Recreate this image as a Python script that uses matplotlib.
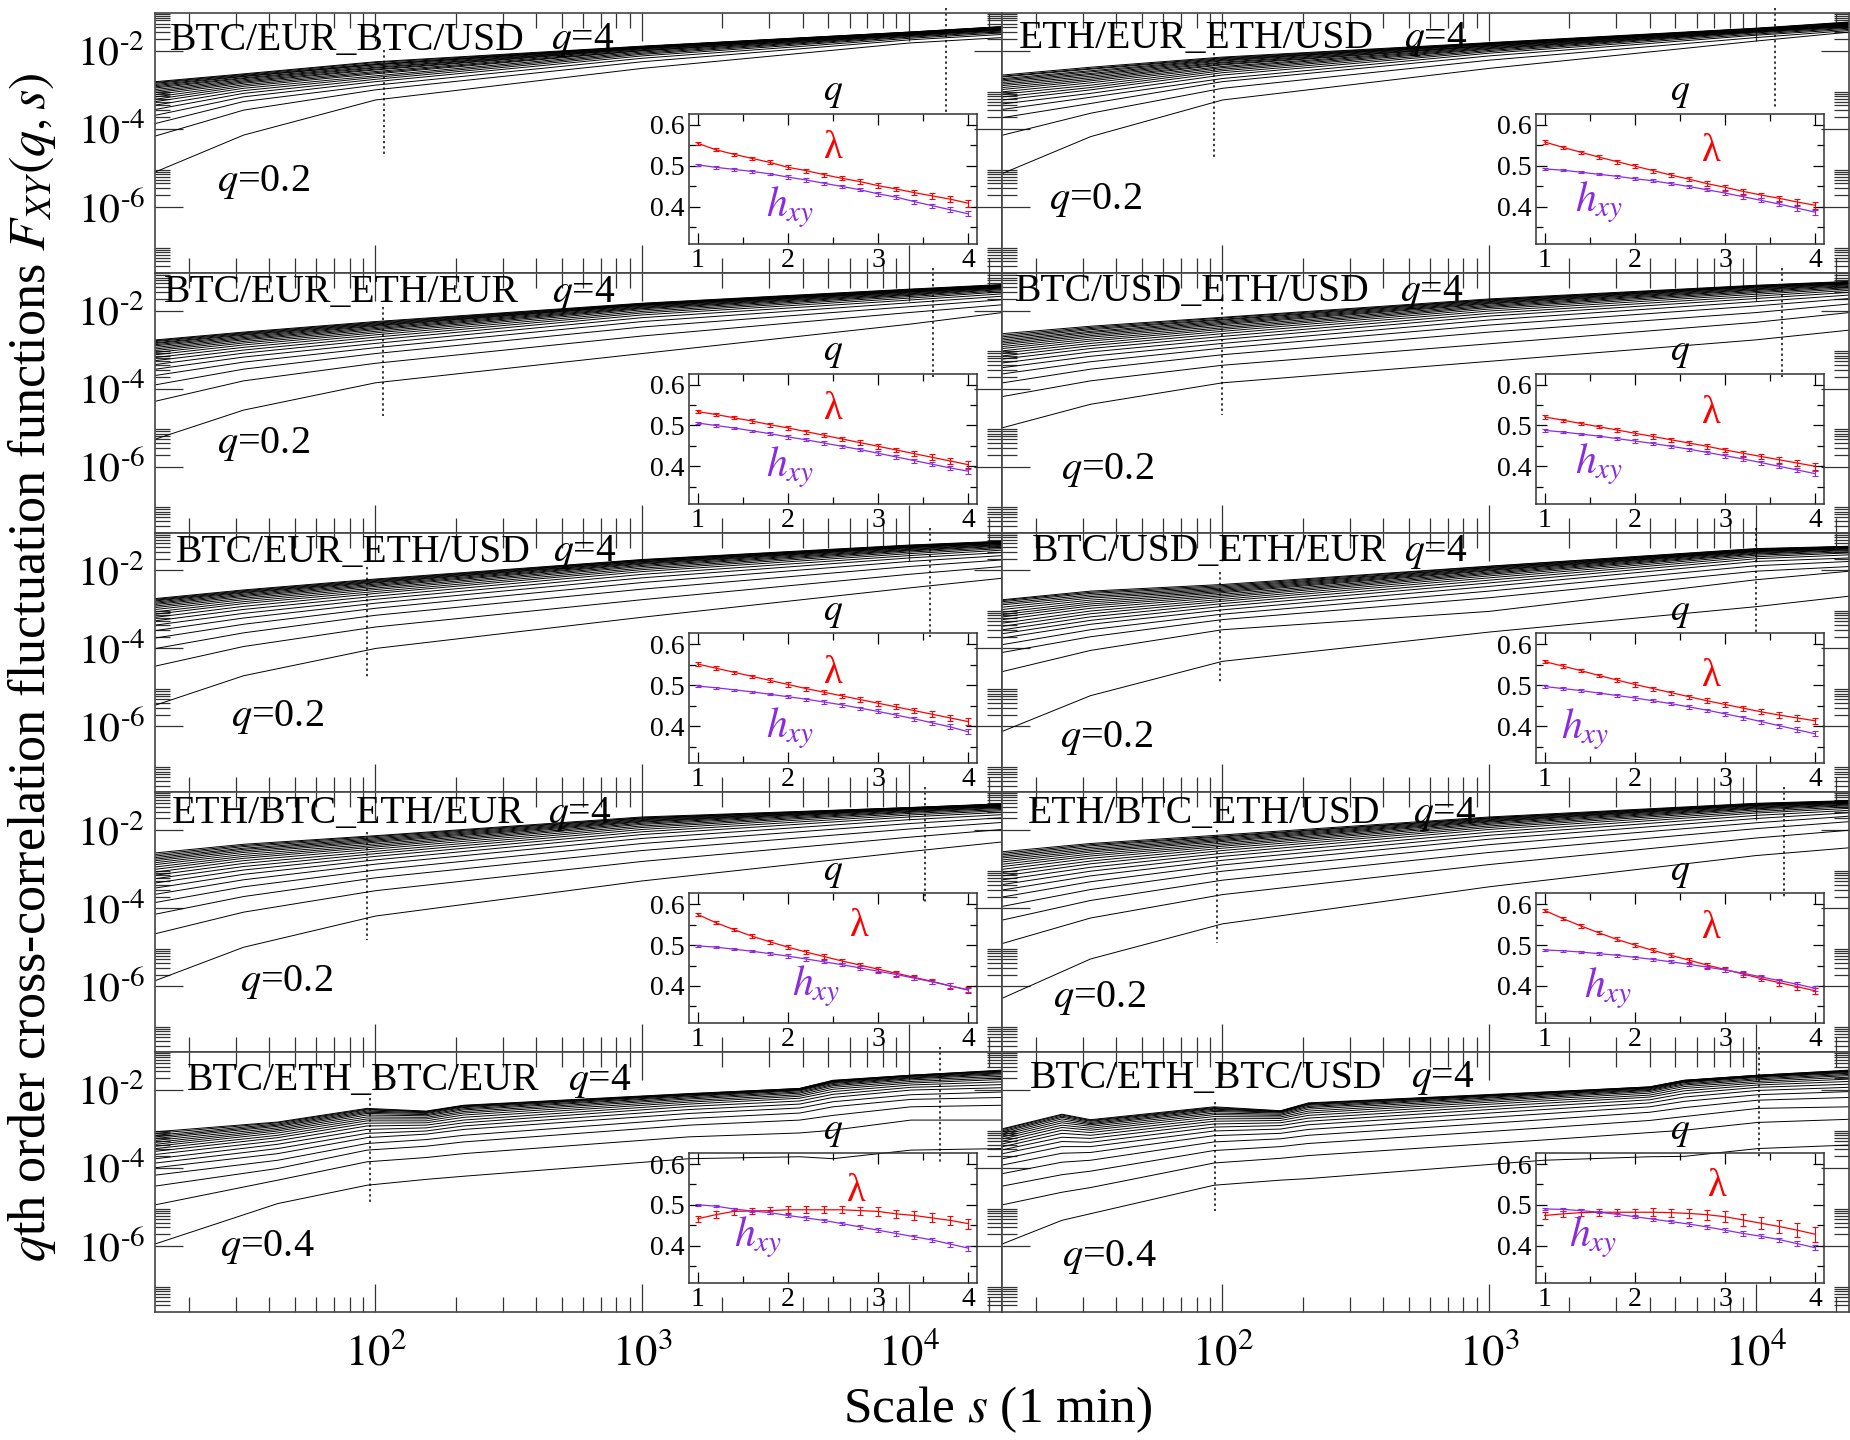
import numpy as np
import matplotlib
matplotlib.use("Agg")
import matplotlib.pyplot as plt
from matplotlib.ticker import FixedLocator, FuncFormatter, NullFormatter

plt.rcParams["font.family"] = ["Liberation Serif", "DejaVu Serif"]
plt.rcParams["mathtext.fontset"] = "stix"
plt.rcParams["axes.unicode_minus"] = False

s_grid = [15, 32, 100, 1000, 10000, 22400]
s_grid_btceth_eur = [15, 43, 93, 155, 214, 1500, 3900, 5200, 10200, 22400]
s_grid_btceth_usd = [15, 25, 32, 93, 165, 210, 1600, 4000, 5400, 10200, 22400]

q_orders = [0.2, 0.4, 0.6, 0.8, 1.0, 1.2, 1.4, 1.6, 1.8, 2.0,
            2.2, 2.4, 2.6, 2.8, 3.0, 3.2, 3.4, 3.6, 3.8, 4.0]
q_inset = [1.0, 1.2, 1.4, 1.6, 1.8, 2.0, 2.2, 2.4, 2.6, 2.8, 3.0, 3.2, 3.4, 3.6, 3.8, 4.0]

pairs = ["BTC/EUR_BTC/USD", "ETH/EUR_ETH/USD", "BTC/EUR_ETH/EUR", "BTC/USD_ETH/USD",
         "BTC/EUR_ETH/USD", "BTC/USD_ETH/EUR", "ETH/BTC_ETH/EUR", "ETH/BTC_ETH/USD",
         "BTC/ETH_BTC/EUR", "BTC/ETH_BTC/USD"]
q_lowest = ["0.2"] * 8 + ["0.4", "0.4"]

# log10 F_XY(q,s): one list per scale (s_grid), values for q = 0.2 ... 4.0
logF_btceur_btcusd = [
    [-5.10, -4.18, -3.86, -3.65, -3.50, -3.39, -3.30, -3.24, -3.18, -3.12, -3.07, -3.03, -2.99, -2.95, -2.92, -2.89, -2.86, -2.83, -2.81, -2.79],
    [-4.16, -3.52, -3.30, -3.18, -3.09, -3.02, -2.96, -2.91, -2.87, -2.83, -2.80, -2.77, -2.74, -2.71, -2.69, -2.66, -2.65, -2.63, -2.61, -2.59],
    [-3.26, -3.00, -2.88, -2.79, -2.73, -2.68, -2.64, -2.59, -2.56, -2.53, -2.49, -2.47, -2.44, -2.42, -2.39, -2.36, -2.35, -2.33, -2.30, -2.28],
    [-2.45, -2.28, -2.19, -2.13, -2.09, -2.06, -2.03, -2.00, -1.99, -1.97, -1.95, -1.94, -1.93, -1.92, -1.91, -1.90, -1.90, -1.89, -1.89, -1.88],
    [-1.80, -1.72, -1.68, -1.65, -1.63, -1.61, -1.60, -1.59, -1.58, -1.57, -1.56, -1.56, -1.55, -1.55, -1.54, -1.54, -1.53, -1.53, -1.52, -1.52],
    [-1.66, -1.58, -1.54, -1.51, -1.49, -1.47, -1.46, -1.45, -1.44, -1.43, -1.42, -1.42, -1.41, -1.41, -1.40, -1.40, -1.39, -1.39, -1.38, -1.38],
]
logF_etheur_ethusd = [
    [-5.14, -4.16, -3.71, -3.50, -3.36, -3.26, -3.18, -3.11, -3.05, -2.99, -2.94, -2.89, -2.85, -2.81, -2.77, -2.74, -2.71, -2.67, -2.65, -2.62],
    [-4.20, -3.60, -3.35, -3.19, -3.09, -3.00, -2.94, -2.88, -2.82, -2.77, -2.73, -2.69, -2.65, -2.61, -2.58, -2.54, -2.51, -2.47, -2.45, -2.42],
    [-3.26, -2.96, -2.79, -2.71, -2.62, -2.56, -2.51, -2.47, -2.43, -2.40, -2.36, -2.34, -2.31, -2.29, -2.26, -2.24, -2.22, -2.20, -2.18, -2.16],
    [-2.45, -2.24, -2.13, -2.06, -2.02, -1.99, -1.96, -1.94, -1.92, -1.90, -1.88, -1.87, -1.86, -1.84, -1.83, -1.82, -1.82, -1.81, -1.80, -1.79],
    [-1.75, -1.66, -1.60, -1.57, -1.54, -1.52, -1.51, -1.50, -1.49, -1.48, -1.47, -1.46, -1.46, -1.45, -1.45, -1.44, -1.44, -1.43, -1.43, -1.42],
    [-1.52, -1.48, -1.45, -1.42, -1.40, -1.38, -1.37, -1.36, -1.35, -1.34, -1.33, -1.32, -1.31, -1.31, -1.30, -1.29, -1.28, -1.28, -1.27, -1.26],
]
logF_btceur_etheur = [
    [-5.29, -4.32, -3.90, -3.66, -3.50, -3.38, -3.28, -3.20, -3.13, -3.07, -3.02, -2.98, -2.94, -2.90, -2.87, -2.84, -2.82, -2.79, -2.77, -2.75],
    [-4.55, -3.80, -3.50, -3.32, -3.19, -3.09, -3.01, -2.94, -2.88, -2.83, -2.79, -2.75, -2.72, -2.69, -2.66, -2.63, -2.61, -2.59, -2.57, -2.55],
    [-3.85, -3.35, -3.10, -2.95, -2.84, -2.75, -2.68, -2.62, -2.57, -2.53, -2.49, -2.46, -2.43, -2.40, -2.38, -2.36, -2.34, -2.32, -2.30, -2.28],
    [-3.10, -2.65, -2.42, -2.28, -2.18, -2.11, -2.06, -2.02, -1.98, -1.95, -1.93, -1.91, -1.89, -1.87, -1.86, -1.85, -1.84, -1.83, -1.82, -1.81],
    [-2.35, -2.05, -1.90, -1.80, -1.73, -1.68, -1.64, -1.61, -1.59, -1.57, -1.55, -1.53, -1.52, -1.51, -1.50, -1.49, -1.48, -1.47, -1.46, -1.45],
    [-2.05, -1.85, -1.72, -1.63, -1.57, -1.52, -1.49, -1.46, -1.44, -1.42, -1.41, -1.40, -1.39, -1.38, -1.37, -1.36, -1.35, -1.35, -1.34, -1.33],
]
logF_btcusd_ethusd = [
    [-5.00, -4.20, -3.85, -3.62, -3.46, -3.34, -3.24, -3.16, -3.09, -3.03, -2.97, -2.92, -2.87, -2.83, -2.79, -2.75, -2.71, -2.67, -2.63, -2.59],
    [-4.40, -3.80, -3.50, -3.31, -3.17, -3.06, -2.97, -2.90, -2.84, -2.78, -2.73, -2.68, -2.64, -2.60, -2.56, -2.53, -2.49, -2.46, -2.43, -2.40],
    [-3.85, -3.40, -3.13, -2.96, -2.84, -2.74, -2.66, -2.59, -2.53, -2.48, -2.44, -2.40, -2.36, -2.33, -2.30, -2.27, -2.24, -2.22, -2.19, -2.17],
    [-3.30, -2.85, -2.55, -2.37, -2.24, -2.14, -2.07, -2.01, -1.96, -1.92, -1.89, -1.86, -1.83, -1.81, -1.79, -1.77, -1.75, -1.73, -1.72, -1.70],
    [-2.75, -2.30, -2.05, -1.88, -1.77, -1.69, -1.63, -1.58, -1.54, -1.51, -1.48, -1.46, -1.44, -1.42, -1.40, -1.39, -1.38, -1.37, -1.36, -1.35],
    [-2.50, -2.05, -1.83, -1.69, -1.60, -1.53, -1.48, -1.44, -1.41, -1.38, -1.36, -1.34, -1.32, -1.31, -1.30, -1.29, -1.28, -1.27, -1.26, -1.25],
]
logF_btceur_ethusd = [
    [-5.45, -4.45, -4.00, -3.73, -3.54, -3.40, -3.29, -3.20, -3.12, -3.06, -3.00, -2.95, -2.91, -2.87, -2.84, -2.81, -2.78, -2.76, -2.74, -2.72],
    [-4.70, -3.95, -3.60, -3.38, -3.22, -3.10, -3.00, -2.92, -2.85, -2.80, -2.75, -2.71, -2.67, -2.64, -2.61, -2.58, -2.56, -2.54, -2.52, -2.50],
    [-4.00, -3.45, -3.15, -2.97, -2.84, -2.74, -2.66, -2.59, -2.54, -2.49, -2.45, -2.41, -2.38, -2.35, -2.32, -2.30, -2.28, -2.26, -2.24, -2.22],
    [-3.20, -2.75, -2.48, -2.31, -2.19, -2.10, -2.03, -1.98, -1.94, -1.90, -1.87, -1.84, -1.82, -1.80, -1.78, -1.77, -1.75, -1.74, -1.73, -1.72],
    [-2.45, -2.10, -1.90, -1.77, -1.68, -1.62, -1.57, -1.53, -1.50, -1.48, -1.46, -1.44, -1.42, -1.41, -1.40, -1.39, -1.38, -1.37, -1.36, -1.35],
    [-2.20, -1.90, -1.73, -1.62, -1.54, -1.48, -1.44, -1.41, -1.38, -1.36, -1.34, -1.33, -1.31, -1.30, -1.29, -1.28, -1.27, -1.26, -1.26, -1.25],
]
logF_btcusd_etheur = [
    [-6.12, -4.59, -4.10, -3.90, -3.73, -3.62, -3.52, -3.43, -3.35, -3.26, -3.19, -3.13, -3.07, -3.00, -2.94, -2.88, -2.84, -2.80, -2.77, -2.75],
    [-5.21, -4.05, -3.70, -3.52, -3.38, -3.28, -3.19, -3.11, -3.04, -2.97, -2.91, -2.86, -2.81, -2.76, -2.71, -2.67, -2.63, -2.59, -2.56, -2.53],
    [-4.33, -3.52, -3.26, -3.12, -3.01, -2.92, -2.85, -2.79, -2.74, -2.69, -2.65, -2.61, -2.57, -2.54, -2.51, -2.48, -2.45, -2.42, -2.39, -2.36],
    [-3.58, -3.05, -2.70, -2.53, -2.41, -2.32, -2.25, -2.19, -2.14, -2.10, -2.07, -2.04, -2.01, -1.99, -1.97, -1.95, -1.93, -1.92, -1.90, -1.89],
    [-2.93, -2.24, -2.02, -1.88, -1.77, -1.70, -1.65, -1.61, -1.58, -1.56, -1.54, -1.52, -1.51, -1.50, -1.49, -1.48, -1.47, -1.46, -1.45, -1.44],
    [-2.66, -2.02, -1.90, -1.77, -1.68, -1.60, -1.55, -1.52, -1.49, -1.47, -1.45, -1.44, -1.43, -1.42, -1.41, -1.40, -1.40, -1.39, -1.39, -1.38],
]
logF_ethbtc_etheur = [
    [-5.85, -4.65, -4.15, -3.85, -3.64, -3.48, -3.35, -3.24, -3.15, -3.07, -3.00, -2.94, -2.88, -2.83, -2.78, -2.74, -2.70, -2.66, -2.62, -2.58],
    [-5.00, -4.10, -3.70, -3.45, -3.27, -3.13, -3.02, -2.93, -2.85, -2.78, -2.72, -2.67, -2.62, -2.57, -2.53, -2.49, -2.46, -2.42, -2.39, -2.36],
    [-4.20, -3.55, -3.22, -3.02, -2.87, -2.76, -2.67, -2.60, -2.54, -2.48, -2.43, -2.39, -2.35, -2.31, -2.28, -2.25, -2.22, -2.19, -2.16, -2.14],
    [-3.30, -2.80, -2.52, -2.34, -2.21, -2.11, -2.04, -1.98, -1.93, -1.89, -1.85, -1.82, -1.79, -1.77, -1.75, -1.73, -1.71, -1.69, -1.68, -1.66],
    [-2.55, -2.18, -1.97, -1.83, -1.73, -1.66, -1.61, -1.57, -1.54, -1.52, -1.50, -1.48, -1.47, -1.46, -1.45, -1.44, -1.43, -1.43, -1.42, -1.42],
    [-2.30, -1.98, -1.80, -1.68, -1.60, -1.54, -1.50, -1.47, -1.44, -1.42, -1.40, -1.39, -1.38, -1.37, -1.36, -1.35, -1.34, -1.33, -1.33, -1.32],
]
logF_ethbtc_ethusd = [
    [-6.30, -4.90, -4.30, -3.95, -3.71, -3.53, -3.39, -3.27, -3.17, -3.08, -3.00, -2.93, -2.87, -2.81, -2.76, -2.71, -2.67, -2.63, -2.59, -2.55],
    [-5.30, -4.25, -3.80, -3.52, -3.32, -3.17, -3.05, -2.95, -2.86, -2.79, -2.72, -2.66, -2.61, -2.56, -2.52, -2.48, -2.44, -2.40, -2.37, -2.34],
    [-4.40, -3.65, -3.28, -3.05, -2.89, -2.77, -2.67, -2.59, -2.52, -2.46, -2.41, -2.37, -2.33, -2.29, -2.26, -2.23, -2.20, -2.17, -2.15, -2.12],
    [-3.45, -2.88, -2.57, -2.37, -2.23, -2.13, -2.05, -1.98, -1.93, -1.89, -1.85, -1.82, -1.79, -1.77, -1.75, -1.73, -1.71, -1.69, -1.68, -1.66],
    [-2.65, -2.20, -1.96, -1.81, -1.70, -1.62, -1.56, -1.52, -1.48, -1.45, -1.43, -1.41, -1.39, -1.37, -1.36, -1.35, -1.34, -1.33, -1.32, -1.31],
    [-2.45, -2.00, -1.78, -1.64, -1.55, -1.49, -1.44, -1.40, -1.37, -1.35, -1.33, -1.31, -1.30, -1.29, -1.28, -1.27, -1.26, -1.25, -1.25, -1.24],
]
# BTC/ETH panels: one row per q = 0.4 ... 4.0, along their own scale grids
logF_btceth_btceur = np.array([
    [-5.94, -4.91, -4.44, -4.29, -4.21, -3.76, -3.71, -3.76, -3.54, -3.50],
    [-4.94, -4.31, -3.84, -3.73, -3.63, -3.20, -3.10, -3.03, -2.77, -2.77],
    [-4.46, -4.01, -3.54, -3.44, -3.33, -2.90, -2.77, -2.65, -2.43, -2.39],
    [-4.18, -3.80, -3.37, -3.27, -3.16, -2.73, -2.59, -2.43, -2.24, -2.19],
    [-3.99, -3.63, -3.22, -3.13, -3.01, -2.60, -2.46, -2.30, -2.12, -2.05],
    [-3.87, -3.50, -3.11, -3.05, -2.92, -2.50, -2.36, -2.19, -2.00, -1.94],
    [-3.76, -3.39, -3.01, -2.97, -2.84, -2.42, -2.28, -2.11, -1.93, -1.86],
    [-3.65, -3.30, -2.92, -2.90, -2.77, -2.36, -2.21, -2.04, -1.87, -1.79],
    [-3.57, -3.22, -2.85, -2.84, -2.70, -2.31, -2.16, -1.98, -1.82, -1.73],
    [-3.50, -3.16, -2.79, -2.79, -2.64, -2.27, -2.12, -1.93, -1.78, -1.69],
    [-3.44, -3.10, -2.74, -2.74, -2.59, -2.23, -2.08, -1.89, -1.74, -1.65],
    [-3.39, -3.05, -2.69, -2.70, -2.55, -2.20, -2.05, -1.86, -1.71, -1.61],
    [-3.34, -3.01, -2.64, -2.66, -2.51, -2.17, -2.02, -1.83, -1.69, -1.58],
    [-3.29, -2.97, -2.60, -2.63, -2.48, -2.15, -2.00, -1.81, -1.67, -1.56],
    [-3.24, -2.93, -2.57, -2.60, -2.45, -2.13, -1.99, -1.79, -1.65, -1.54],
    [-3.20, -2.90, -2.54, -2.58, -2.43, -2.12, -1.98, -1.78, -1.64, -1.52],
    [-3.16, -2.87, -2.51, -2.56, -2.41, -2.11, -1.97, -1.77, -1.63, -1.51],
    [-3.11, -2.84, -2.49, -2.55, -2.40, -2.10, -1.96, -1.76, -1.62, -1.50],
    [-3.07, -2.82, -2.47, -2.54, -2.39, -2.09, -1.96, -1.75, -1.62, -1.49],
]).T
logF_btceth_btcusd = np.array([
    [-5.94, -5.34, -5.17, -4.44, -4.31, -4.27, -3.80, -3.71, -3.70, -3.50, -3.41],
    [-4.94, -4.62, -4.50, -3.87, -3.75, -3.68, -3.28, -3.09, -3.03, -2.83, -2.75],
    [-4.46, -4.17, -4.08, -3.55, -3.45, -3.37, -2.97, -2.78, -2.68, -2.47, -2.43],
    [-4.14, -3.85, -3.80, -3.33, -3.25, -3.16, -2.76, -2.57, -2.45, -2.26, -2.19],
    [-3.92, -3.62, -3.60, -3.17, -3.11, -3.01, -2.61, -2.43, -2.29, -2.12, -2.04],
    [-3.76, -3.45, -3.45, -3.05, -3.00, -2.89, -2.50, -2.33, -2.18, -2.01, -1.93],
    [-3.63, -3.32, -3.34, -2.95, -2.91, -2.80, -2.41, -2.25, -2.09, -1.93, -1.85],
    [-3.53, -3.21, -3.24, -2.87, -2.84, -2.72, -2.34, -2.18, -2.02, -1.87, -1.78],
    [-3.45, -3.11, -3.16, -2.80, -2.78, -2.65, -2.28, -2.13, -1.96, -1.82, -1.72],
    [-3.38, -3.03, -3.09, -2.74, -2.73, -2.59, -2.23, -2.08, -1.91, -1.78, -1.67],
    [-3.31, -2.96, -3.03, -2.68, -2.69, -2.54, -2.19, -2.04, -1.87, -1.74, -1.63],
    [-3.25, -2.90, -2.98, -2.63, -2.65, -2.49, -2.16, -2.01, -1.84, -1.71, -1.60],
    [-3.20, -2.84, -2.93, -2.59, -2.62, -2.45, -2.13, -1.99, -1.81, -1.68, -1.57],
    [-3.15, -2.79, -2.89, -2.55, -2.59, -2.42, -2.11, -1.97, -1.79, -1.66, -1.55],
    [-3.11, -2.74, -2.86, -2.52, -2.57, -2.39, -2.09, -1.95, -1.78, -1.65, -1.53],
    [-3.07, -2.70, -2.83, -2.49, -2.56, -2.37, -2.08, -1.94, -1.77, -1.64, -1.52],
    [-3.04, -2.67, -2.80, -2.47, -2.55, -2.35, -2.07, -1.93, -1.76, -1.63, -1.51],
    [-3.01, -2.64, -2.78, -2.45, -2.54, -2.34, -2.06, -1.92, -1.75, -1.62, -1.50],
    [-2.99, -2.62, -2.76, -2.43, -2.53, -2.33, -2.05, -1.92, -1.75, -1.62, -1.49],
]).T

# inset: lambda and h_xy versus q = 1 ... 4
lam = [
    [0.555, 0.539, 0.528, 0.518, 0.508, 0.496, 0.488, 0.478, 0.469, 0.461, 0.451, 0.443, 0.434, 0.426, 0.418, 0.408],
    [0.558, 0.545, 0.533, 0.521, 0.510, 0.499, 0.488, 0.477, 0.467, 0.456, 0.447, 0.437, 0.428, 0.420, 0.411, 0.403],
    [0.534, 0.527, 0.519, 0.511, 0.502, 0.494, 0.485, 0.476, 0.467, 0.458, 0.449, 0.440, 0.431, 0.422, 0.413, 0.404],
    [0.521, 0.513, 0.505, 0.497, 0.489, 0.481, 0.473, 0.465, 0.457, 0.449, 0.440, 0.432, 0.424, 0.416, 0.408, 0.400],
    [0.552, 0.542, 0.532, 0.522, 0.512, 0.502, 0.492, 0.483, 0.474, 0.465, 0.456, 0.447, 0.438, 0.429, 0.420, 0.411],
    [0.558, 0.547, 0.536, 0.524, 0.513, 0.502, 0.492, 0.482, 0.472, 0.462, 0.453, 0.444, 0.435, 0.427, 0.420, 0.413],
    [0.575, 0.555, 0.538, 0.522, 0.508, 0.495, 0.483, 0.472, 0.461, 0.451, 0.441, 0.431, 0.421, 0.411, 0.400, 0.390],
    [0.585, 0.565, 0.547, 0.530, 0.514, 0.500, 0.487, 0.475, 0.463, 0.451, 0.440, 0.429, 0.418, 0.408, 0.398, 0.388],
    [0.466, 0.476, 0.484, 0.485, 0.486, 0.488, 0.488, 0.488, 0.488, 0.486, 0.484, 0.478, 0.474, 0.468, 0.462, 0.454],
    [0.474, 0.478, 0.481, 0.482, 0.482, 0.482, 0.482, 0.481, 0.479, 0.476, 0.471, 0.463, 0.455, 0.447, 0.438, 0.428],
]
h_xy = [
    [0.502, 0.496, 0.491, 0.486, 0.480, 0.472, 0.465, 0.457, 0.449, 0.441, 0.431, 0.423, 0.412, 0.402, 0.392, 0.382],
    [0.492, 0.489, 0.484, 0.479, 0.474, 0.468, 0.463, 0.456, 0.449, 0.441, 0.433, 0.424, 0.415, 0.406, 0.396, 0.386],
    [0.506, 0.500, 0.494, 0.487, 0.480, 0.472, 0.465, 0.457, 0.449, 0.441, 0.432, 0.423, 0.414, 0.405, 0.396, 0.388],
    [0.488, 0.484, 0.479, 0.474, 0.468, 0.462, 0.456, 0.449, 0.442, 0.434, 0.426, 0.418, 0.409, 0.400, 0.391, 0.382],
    [0.498, 0.494, 0.489, 0.484, 0.478, 0.472, 0.466, 0.459, 0.452, 0.444, 0.436, 0.427, 0.418, 0.408, 0.398, 0.386],
    [0.497, 0.492, 0.487, 0.481, 0.475, 0.469, 0.462, 0.455, 0.447, 0.439, 0.430, 0.421, 0.411, 0.401, 0.391, 0.381],
    [0.498, 0.495, 0.490, 0.485, 0.479, 0.473, 0.466, 0.459, 0.452, 0.444, 0.436, 0.428, 0.419, 0.410, 0.400, 0.390],
    [0.488, 0.486, 0.483, 0.479, 0.475, 0.470, 0.465, 0.459, 0.453, 0.446, 0.439, 0.431, 0.422, 0.413, 0.404, 0.394],
    [0.500, 0.497, 0.490, 0.485, 0.481, 0.474, 0.468, 0.462, 0.454, 0.446, 0.438, 0.430, 0.422, 0.414, 0.404, 0.394],
    [0.490, 0.489, 0.486, 0.482, 0.477, 0.471, 0.465, 0.459, 0.453, 0.446, 0.438, 0.430, 0.423, 0.415, 0.405, 0.395],
]
lam_err = [0.004, 0.004, 0.004, 0.004, 0.005, 0.005, 0.005, 0.005, 0.005, 0.006, 0.006, 0.006, 0.006, 0.007, 0.007, 0.008]
h_err = [0.003, 0.003, 0.003, 0.003, 0.003, 0.004, 0.004, 0.004, 0.004, 0.004, 0.005, 0.005, 0.005, 0.005, 0.006, 0.006]
lam_err_btceth_eur = [0.008, 0.008, 0.008, 0.008, 0.008, 0.009, 0.009, 0.009, 0.009, 0.010, 0.010, 0.010, 0.011, 0.011, 0.012, 0.012]
lam_err_btceth_usd = [0.008, 0.008, 0.008, 0.008, 0.009, 0.009, 0.010, 0.010, 0.011, 0.012, 0.013, 0.014, 0.015, 0.016, 0.017, 0.018]

# scaling-range markers: s of the two dotted lines and the log10 F where they stop
fit_s_lo = [108, 93, 107, 100, 93, 98, 93, 95, 95, 94]
fit_s_hi = [13800, 11800, 12300, 12600, 12000, 10000, 11500, 12800, 13100, 10300]
fit_lo_top = [-1.97, -2.06, -1.90, -1.90, -1.90, -2.03, -2.04, -2.00, -2.21, -2.31]
fit_lo_bot = [-4.72, -4.72, -4.70, -4.68, -4.78, -4.88, -4.82, -4.90, -4.95, -5.11]
fit_hi_bot = [-3.59, -3.47, -3.71, -3.71, -3.70, -3.59, -3.84, -3.77, -3.85, -3.72]

panel_logF = [logF_btceur_btcusd, logF_etheur_ethusd, logF_btceur_etheur, logF_btcusd_ethusd,
              logF_btceur_ethusd, logF_btcusd_etheur, logF_ethbtc_etheur, logF_ethbtc_ethusd,
              logF_btceth_btceur, logF_btceth_btcusd]
panel_s = [s_grid] * 8 + [s_grid_btceth_eur, s_grid_btceth_usd]
panel_lam_err = [lam_err] * 8 + [lam_err_btceth_eur, lam_err_btceth_usd]

# text placement (axes fractions)
title_x = [0.018, 0.020, 0.010, 0.015, 0.024, 0.035, 0.020, 0.030, 0.038, 0.033]
q4_x = [0.468, 0.475, 0.469, 0.470, 0.470, 0.475, 0.464, 0.485, 0.488, 0.483]
title_y = [0.896, 0.900, 0.923, 0.927, 0.925, 0.927, 0.918, 0.918, 0.890, 0.900]
qlow_xy = [(0.073, 0.35), (0.055, 0.28), (0.073, 0.34), (0.070, 0.24), (0.090, 0.29),
           (0.068, 0.21), (0.100, 0.27), (0.060, 0.21), (0.077, 0.25), (0.071, 0.21)]
lam_xy = [(0.50, 0.73), (0.61, 0.71), (0.50, 0.72), (0.61, 0.69), (0.50, 0.69),
          (0.61, 0.67), (0.59, 0.74), (0.61, 0.73), (0.58, 0.70), (0.63, 0.74)]
h_xy_pos = [(0.35, 0.28), (0.22, 0.315), (0.35, 0.28), (0.22, 0.30), (0.35, 0.27),
            (0.17, 0.26), (0.44, 0.28), (0.25, 0.27), (0.24, 0.35), (0.20, 0.35)]

W, H = 1850, 1440
fig = plt.figure(figsize=(W / 100, H / 100), dpi=100)

col_left = [155, 1002]
col_width = [847, 847]
row_h = 259.8
xlim = (10 ** 1.173, 10 ** 4.35)
ylim = (10 ** -7.69, 10 ** -1.03)
purple = "#8a2be2"


def yfmt(v, pos):
    e = int(round(np.log10(v)))
    return "$10^{\u2010" + str(-e) + "}$"


def xfmt(v, pos):
    e = int(round(np.log10(v)))
    return "$10^{" + str(e) + "}$"


for i in range(10):
    row, col = divmod(i, 2)
    top = 13 + row_h * row
    ax = fig.add_axes([col_left[col] / W, 1 - (top + row_h) / H, col_width[col] / W, row_h / H])
    ax.set_xscale("log")
    ax.set_yscale("log")

    F = np.array(panel_logF[i])
    s = panel_s[i]
    for k in range(F.shape[1]):
        ax.plot(s, 10 ** F[:, k], color="black", lw=0.7)

    # scaling range markers
    ax.plot([fit_s_lo[i]] * 2, [10 ** fit_lo_top[i], 10 ** fit_lo_bot[i]],
            color="black", ls=(0, (1.5, 2)), lw=1.1, clip_on=False)
    ax.plot([fit_s_hi[i]] * 2, [10 ** -0.9, 10 ** fit_hi_bot[i]],
            color="black", ls=(0, (1.5, 2)), lw=1.1, clip_on=False)

    ax.set_xlim(*xlim)
    ax.set_ylim(*ylim)
    ax.xaxis.set_major_locator(FixedLocator([1e2, 1e3, 1e4]))
    ax.xaxis.set_minor_locator(FixedLocator([k * 10.0 ** e for e in (1, 2, 3, 4) for k in range(2, 10)]))
    ax.yaxis.set_major_locator(FixedLocator([1e-6, 1e-4, 1e-2]))
    ax.yaxis.set_minor_locator(FixedLocator([k * 10.0 ** e for e in (-8, -6, -4, -2) for k in range(2, 10)]))
    ax.xaxis.set_minor_formatter(NullFormatter())
    ax.yaxis.set_minor_formatter(NullFormatter())
    ax.xaxis.set_major_formatter(FuncFormatter(xfmt))
    ax.yaxis.set_major_formatter(FuncFormatter(yfmt))
    ax.tick_params(which="both", direction="in", top=True, right=True, width=0.9, color="#333333")
    ax.tick_params(which="major", length=20)
    ax.tick_params(which="minor", length=10.5)
    ax.tick_params(axis="x", labelsize=32, pad=15, labelbottom=(row == 4))
    ax.tick_params(axis="y", labelsize=30, pad=7, labelleft=(col == 0))
    for sp in ax.spines.values():
        sp.set_linewidth(1.2)
        sp.set_color("#444444")

    ax.text(title_x[i], title_y[i], pairs[i], transform=ax.transAxes, fontsize=28.5, va="center")
    ax.text(q4_x[i], title_y[i], "$q$=4", transform=ax.transAxes, fontsize=28.5, va="center")
    ax.text(qlow_xy[i][0], qlow_xy[i][1], "$q$=" + q_lowest[i], transform=ax.transAxes,
            fontsize=29, va="center")

    # inset: lambda and h_xy
    ins = ax.inset_axes([0.630, 0.112, 0.341, 0.50])
    ins.set_facecolor("none")
    ins.errorbar(q_inset, lam[i], yerr=panel_lam_err[i], color="red", lw=0.9,
                 elinewidth=0.8, capsize=2.5, capthick=0.8)
    ins.errorbar(q_inset, h_xy[i], yerr=h_err, color=purple, lw=0.9,
                 elinewidth=0.8, capsize=2.5, capthick=0.8)
    ins.set_xlim(0.9, 4.1)
    ins.set_ylim(0.309, 0.627)
    ins.xaxis.set_major_locator(FixedLocator([1, 2, 3, 4]))
    ins.xaxis.set_minor_locator(FixedLocator([1.5, 2.5, 3.5]))
    ins.yaxis.set_major_locator(FixedLocator([0.4, 0.5, 0.6]))
    ins.yaxis.set_minor_locator(FixedLocator([0.35, 0.45, 0.55]))
    ins.xaxis.set_major_formatter(FuncFormatter(lambda v, p: "%d" % v))
    ins.yaxis.set_major_formatter(FuncFormatter(lambda v, p: "%.1f" % v))
    ins.tick_params(which="both", direction="in", top=True, right=True, width=0.9, labelsize=20, pad=3)
    ins.tick_params(which="major", length=8)
    ins.tick_params(which="minor", length=5)
    for sp in ins.spines.values():
        sp.set_linewidth(1.1)
        sp.set_color("#333333")
    ins.text(0.5, 1.16, "$q$", transform=ins.transAxes, ha="center", va="center", fontsize=27)
    ins.text(lam_xy[i][0], lam_xy[i][1], "\u03bb", transform=ins.transAxes, color="red",
             fontsize=28, ha="center", va="center")
    ins.text(h_xy_pos[i][0], h_xy_pos[i][1], "$h_{xy}$", transform=ins.transAxes, color=purple,
             fontsize=30, ha="center", va="center")

fig.text(0.5395, 0.021, "Scale $s$ (1 min)", ha="center", va="center", fontsize=37)
fig.text(0.017, 0.537, "$q$th order cross-correlation fluctuation functions $F_{XY}(q,s)$",
         rotation=90, ha="center", va="center", fontsize=37.5)

fig.savefig("out.png", dpi=100)
